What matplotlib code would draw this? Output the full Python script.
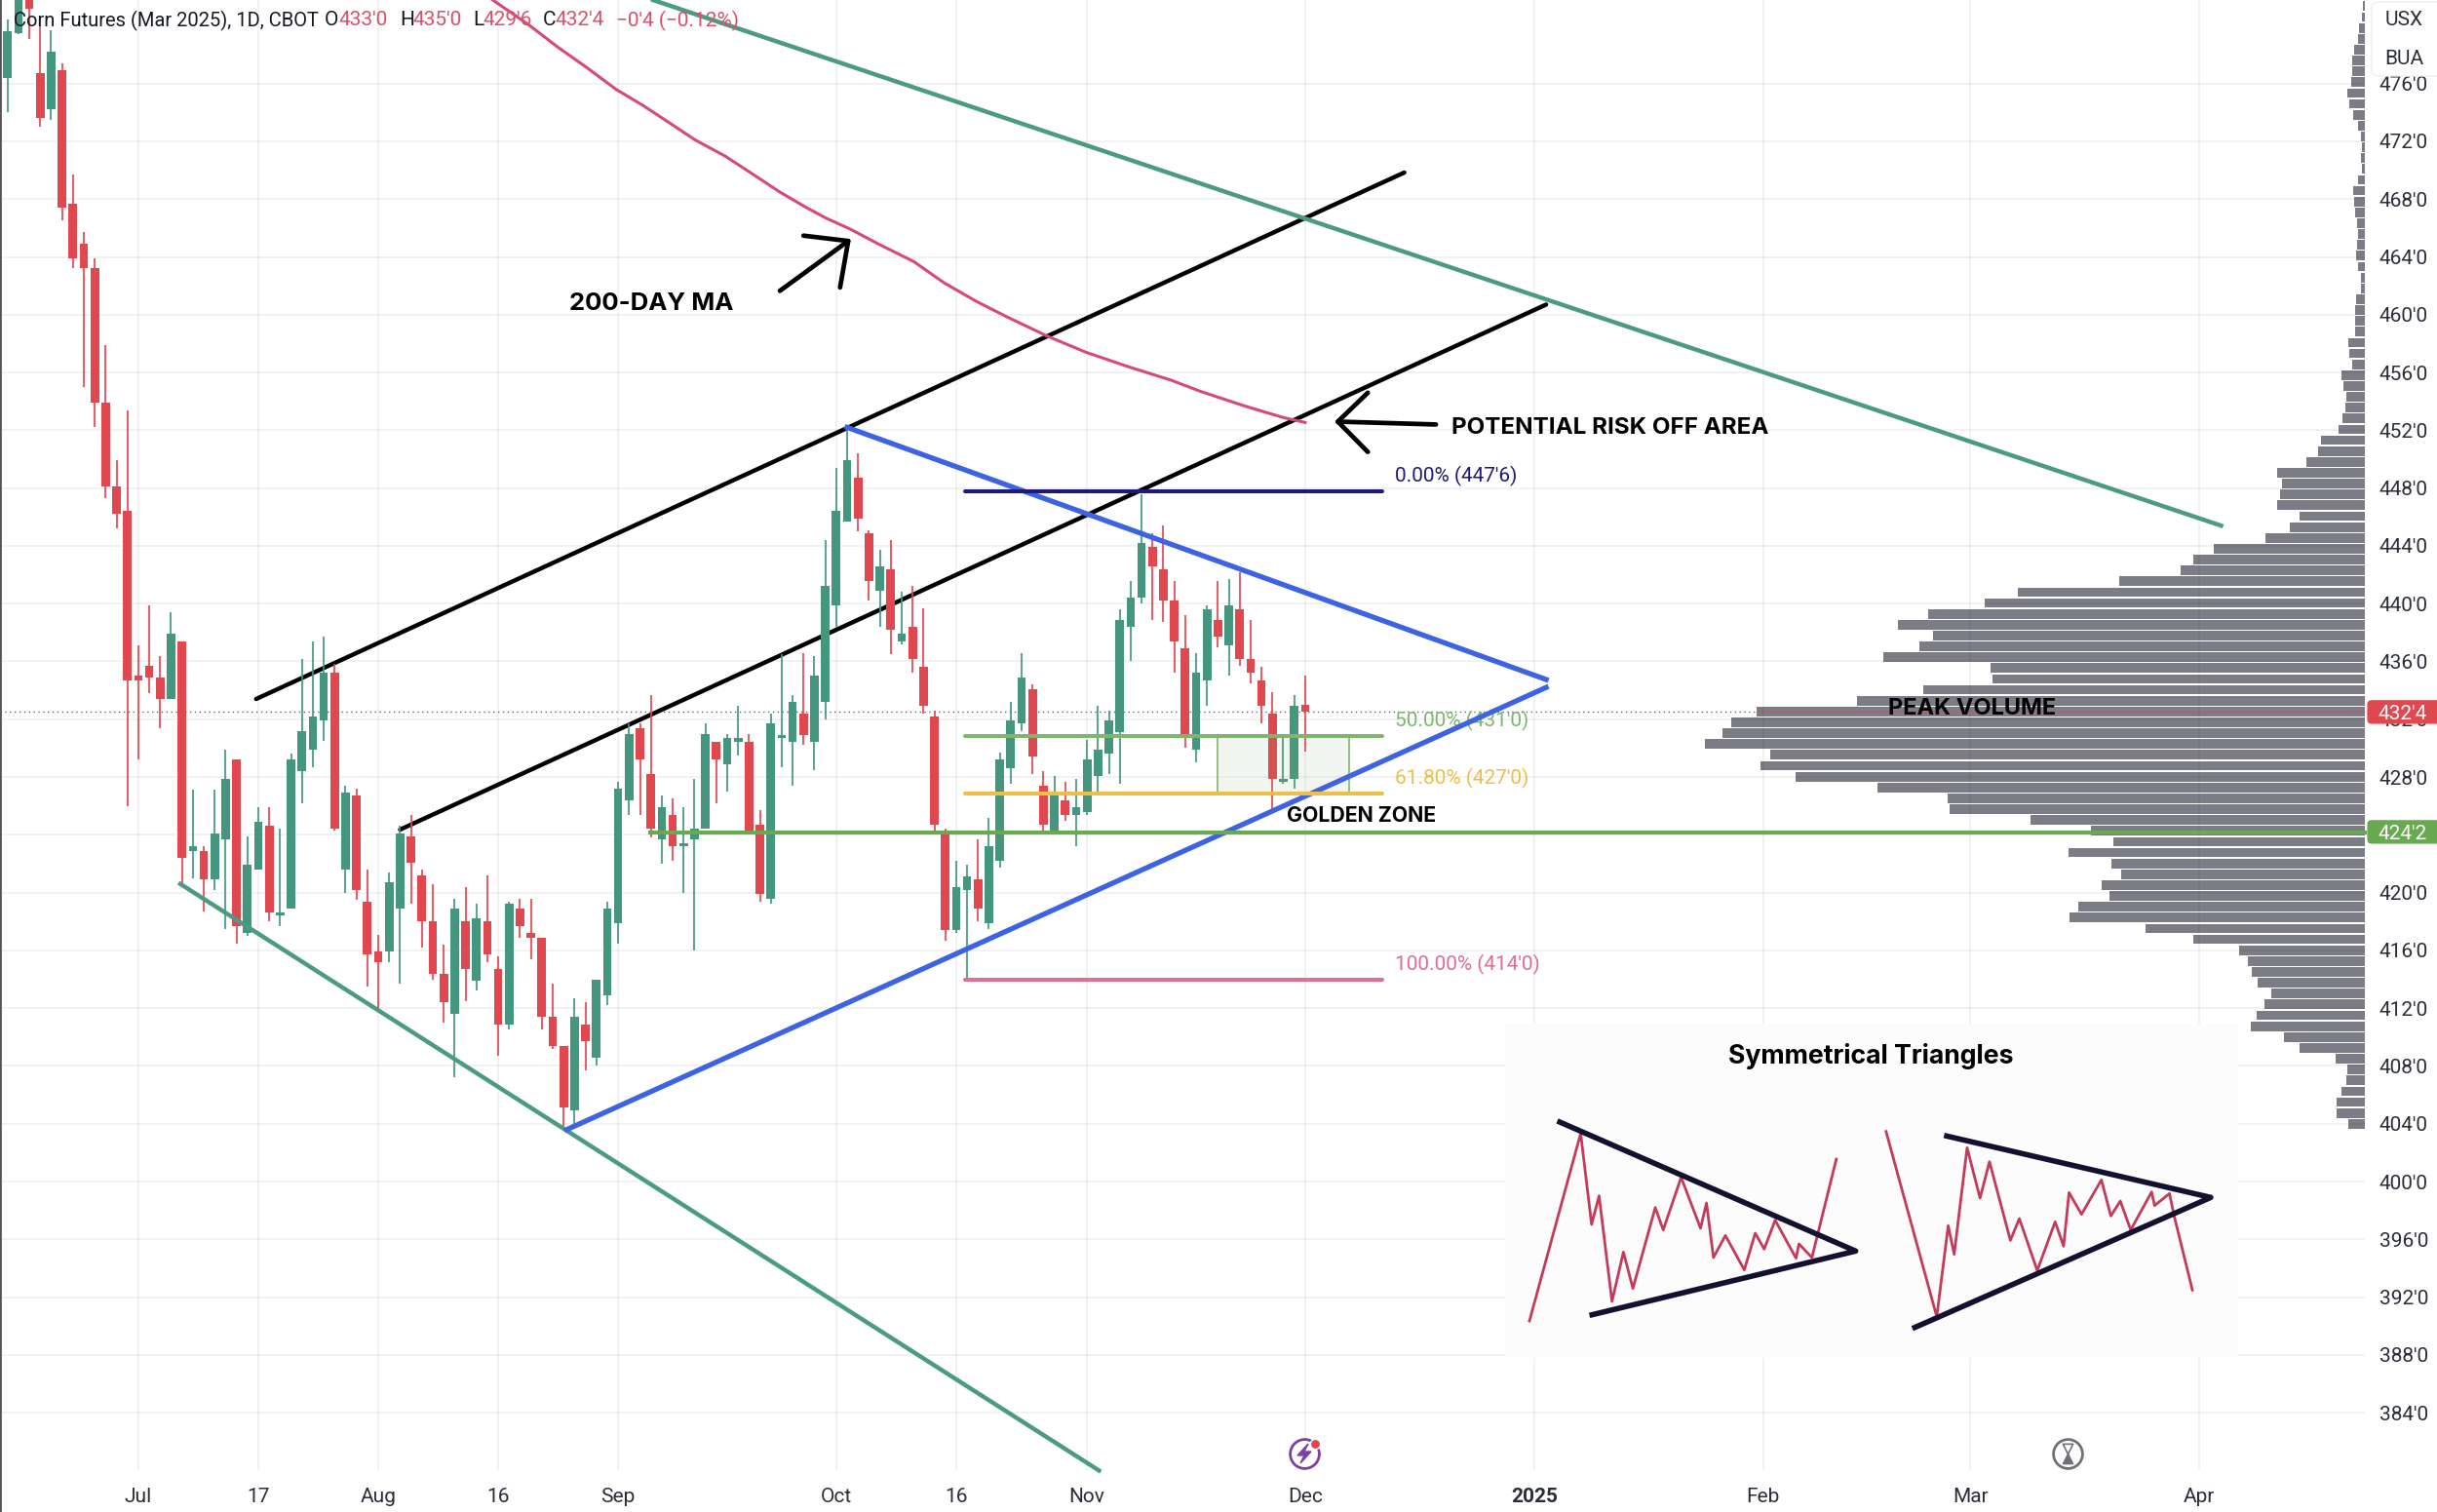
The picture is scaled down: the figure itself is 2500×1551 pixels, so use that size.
import matplotlib
matplotlib.use("Agg")
import matplotlib.pyplot as plt
from matplotlib.patches import FancyBboxPatch, Rectangle

# Daily candles, Corn Futures Mar 2025
opens = [476.4, 479.5, 483.0, 476.7, 474.2, 476.9, 467.7, 464.9, 463.2, 453.9, 448.1, 446.4, 435.0, 435.7, 434.9,
         433.4, 437.4, 422.9, 422.9, 420.9, 423.7, 429.2, 417.2, 421.6, 424.6, 418.4, 418.9, 428.4, 429.9, 431.9,
         435.2, 421.6, 426.7, 419.4, 415.9, 415.9, 418.9, 423.9, 421.2, 418.0, 414.4, 411.6, 418.0, 413.9, 418.0,
         414.7, 410.9, 418.9, 417.2, 416.9, 411.4, 409.4, 404.9, 410.9, 408.6, 412.9, 417.9, 426.4, 431.4, 428.2,
         423.7, 425.4, 423.2, 423.7, 424.4, 430.4, 428.9, 430.4, 430.4, 424.7, 419.6, 430.7, 430.4, 432.4, 430.4,
         433.2, 439.9, 445.7, 448.7, 444.9, 440.9, 442.4, 437.4, 438.4, 435.6, 432.2, 424.0, 417.4, 420.2, 420.9,
         417.9, 422.2, 428.6, 431.7, 434.1, 427.4, 424.2, 426.4, 425.4, 425.6, 428.1, 429.6, 431.1, 438.4, 440.4,
         443.9, 442.4, 440.2, 436.9, 429.9, 434.7, 438.9, 437.1, 439.6, 436.2, 434.7, 432.4, 427.7, 427.9, 433.0]
highs = [480.4, 483.0, 484.0, 480.3, 479.7, 477.4, 469.7, 465.7, 463.9, 457.9, 449.9, 453.4, 437.1, 439.9, 436.4,
         439.4, 437.4, 427.1, 423.2, 427.1, 429.9, 429.2, 423.9, 425.9, 425.9, 424.4, 429.6, 436.2, 437.4, 437.7,
         435.8, 427.4, 427.2, 421.6, 417.1, 421.4, 424.6, 425.4, 421.6, 420.6, 416.4, 419.6, 420.4, 419.2, 421.2,
         415.6, 419.4, 419.6, 419.6, 416.9, 413.7, 409.4, 412.7, 412.4, 414.0, 419.4, 427.7, 431.7, 431.7, 433.7,
         426.7, 426.5, 425.9, 427.9, 431.7, 430.4, 431.0, 432.9, 431.0, 425.7, 432.4, 436.5, 433.7, 436.6, 436.4,
         444.4, 449.4, 452.3, 450.4, 445.1, 443.7, 444.4, 440.8, 441.2, 439.7, 432.6, 424.4, 422.2, 421.9, 423.7,
         425.2, 429.7, 433.2, 436.6, 434.4, 428.4, 428.1, 427.7, 427.9, 430.6, 432.9, 432.6, 439.6, 441.6, 447.6,
         444.9, 445.4, 441.6, 439.2, 436.6, 439.9, 441.6, 441.7, 442.2, 438.9, 435.6, 433.9, 430.7, 433.7, 435.0]
lows = [474.0, 479.4, 479.1, 473.0, 473.5, 466.5, 463.2, 455.0, 452.2, 447.3, 445.2, 426.0, 429.2, 433.8, 431.4,
        433.4, 420.4, 421.0, 418.7, 420.2, 417.5, 416.5, 417.0, 421.6, 418.0, 417.7, 418.9, 426.2, 428.7, 430.5,
        424.3, 420.0, 419.5, 413.5, 411.9, 415.2, 413.7, 419.2, 416.2, 414.0, 411.0, 407.2, 412.5, 413.2, 415.2,
        408.7, 410.5, 416.9, 415.4, 410.5, 409.2, 403.7, 403.7, 407.7, 408.0, 412.2, 416.5, 425.4, 425.4, 423.8,
        422.0, 422.2, 420.0, 416.0, 424.4, 426.2, 427.0, 429.5, 424.2, 419.4, 419.2, 428.7, 427.4, 430.2, 428.5,
        432.0, 438.4, 445.7, 445.0, 440.2, 438.4, 436.5, 437.2, 435.2, 432.4, 424.2, 416.7, 417.2, 414.1, 418.0,
        417.5, 421.7, 427.5, 431.2, 428.2, 424.2, 424.2, 425.0, 423.2, 425.4, 427.0, 428.2, 427.5, 436.0, 440.0,
        438.9, 438.7, 435.2, 430.0, 429.0, 432.9, 437.0, 435.0, 435.7, 434.5, 431.7, 425.5, 427.5, 427.2, 429.75]
closes = [479.6, 481.8, 481.2, 473.6, 478.2, 467.4, 463.9, 463.2, 453.9, 448.1, 446.2, 434.7, 434.7, 434.9, 433.4,
          437.9, 422.4, 423.2, 420.9, 424.1, 427.9, 417.7, 421.9, 424.9, 418.6, 418.5, 429.2, 431.2, 432.2, 435.2,
          424.4, 426.9, 420.2, 415.7, 415.2, 420.7, 424.1, 422.1, 418.0, 414.4, 412.4, 418.9, 414.7, 418.2, 415.7,
          410.9, 419.2, 417.7, 416.9, 411.4, 409.4, 405.1, 411.4, 409.7, 414.0, 418.9, 427.2, 431.0, 429.2, 424.4,
          425.9, 423.2, 423.4, 424.4, 431.0, 429.2, 430.7, 430.7, 424.2, 419.9, 431.7, 430.8, 433.2, 430.9, 435.0,
          441.2, 446.4, 449.9, 445.9, 441.6, 442.6, 438.2, 437.9, 436.2, 432.9, 424.7, 417.4, 420.4, 421.1, 418.9,
          423.2, 429.2, 431.9, 434.9, 429.4, 424.7, 426.7, 425.4, 425.9, 429.2, 429.9, 431.9, 438.9, 440.4, 444.2,
          442.6, 440.2, 437.4, 430.9, 435.2, 439.6, 437.7, 439.9, 436.2, 435.2, 432.9, 427.9, 427.9, 432.9, 432.5]

# 200-day moving average (bar, price)
ma_bars = [44.5, 47.75, 50.5, 53.0, 55.8, 58.3, 60.8, 63.05, 65.8, 68.3, 70.8, 73.3, 75.1, 77.35, 79.85, 83.1,
           85.9, 88.9, 91.65, 95.4, 98.9, 102.9, 106.7, 109.45, 113.5, 117.0, 119.0]
ma_prices = [481.78, 480.09, 478.5, 477.17, 475.6, 474.47, 473.23, 472.1, 470.98, 469.75, 468.5, 467.4, 466.67,
             465.9, 464.9, 463.68, 462.2, 460.9, 459.85, 458.5, 457.4, 456.37, 455.47, 454.68, 453.67, 452.88, 452.54]

# Volume profile, top bin down to the lowest bin
profile_top = 481.35
profile_bin = 0.751
profile_volume = [2, 2.7, 6, 7.3, 11, 13.3, 12.7, 14, 18, 16, 11.7, 6.7, 3.7, 3.3, 4.3, 3.3, 7.3, 12, 11, 10.3,
                  8, 7.3, 8, 8.7, 6.7, 4, 4, 9.3, 9.7, 10.3, 10.3, 16.7, 16, 13.3, 24.3, 22, 19, 20.3, 22.7, 27.3,
                  45, 48, 60.3, 90.3, 85, 86.7, 89.7, 67.3, 76.7, 102, 155, 176.3, 188.7, 251.6, 356.3, 390.3,
                  447.7, 479.3, 443.5, 456.8, 493.6, 383.8, 382, 453.2, 521.1, 624, 650.1, 658.9, 677.2, 609.7,
                  619.8, 584, 500.5, 428.4, 426.5, 343, 281.4, 258.3, 304.3, 260, 250, 270, 261.7, 294.3, 303,
                  225.3, 175.7, 128.7, 120.3, 116.3, 110.3, 95.7, 103.3, 111, 117, 83.3, 67, 29.7, 18, 19, 24, 29,
                  29, 16.7]

# Drawn trend lines ((bar, bar), (price, price))
black_upper = ((22.8, 128.1), (433.4, 469.84))
black_lower = ((36.0, 141.1), (424.36, 460.7))
teal_upper = ((59.2, 203.0), (481.78, 445.4))
teal_lower = ((15.85, 100.1), (420.6, 380.0))
blue_upper = ((77.0, 141.1), (452.2, 434.75))
blue_lower = ((51.3, 141.1), (403.6, 434.2))

# Fibonacci levels
fib_levels = [447.75, 430.85, 426.85, 414.0]
fib_labels = ["0.00% (447'6)", "50.00% (431'0)", "61.80% (427'0)", "100.00% (414'0)"]
fib_colors = ["#1f1a7a", "#7fb56e", "#eebf48", "#df6d98"]

# Axis ticks
x_ticks = [12, 23, 34, 45, 56, 76, 87, 99, 119, 140, 161, 180, 201]
x_labels = ["Jul", "17", "Aug", "16", "Sep", "Oct", "16", "Nov", "Dec", "2025", "Feb", "Mar", "Apr"]
y_ticks = list(range(384, 480, 4))
y_labels = [f"{p}'0" for p in y_ticks]

# Inset picture of the two triangle patterns
tri1_x = [96, 199, 221, 236, 262, 285, 304, 349, 365, 401, 440, 452, 466, 490, 528, 550, 568, 590, 632, 638, 664, 713]
tri1_y = [945, 368, 648, 560, 885, 733, 845, 596, 665, 503, 660, 582, 750, 682, 788, 675, 724, 635, 752, 708, 750, 447]
tri2_x = [813, 915, 938, 950, 976, 1002, 1021, 1063, 1081, 1117, 1153, 1170, 1181, 1206, 1246, 1265, 1284, 1305,
          1347, 1353, 1383, 1392, 1429]
tri2_y = [362, 932, 652, 740, 412, 567, 455, 697, 630, 790, 640, 715, 550, 617, 511, 622, 576, 665, 548, 590, 553,
          620, 850]
tri1_edges_x = [157, 752, 222]
tri1_edges_y = [333, 730, 926]
tri2_edges_x = [935, 1466, 871]
tri2_edges_y = [376, 565, 965]

GREEN = "#44967f"
RED = "#e0474f"
FONT = "Roboto"
BOLD = "Inter"

W, H = 2500, 1551
fig = plt.figure(figsize=(W / 100, H / 100), dpi=100, facecolor="white")

# Volume profile sits under everything else, its zero at the price scale
ax_v = fig.add_axes([0, 0, 1, 1], zorder=1)
ax_v.set_xlim(2426, 2426 - W)
ax_v.set_ylim(377.13, 481.78)
ax_v.axis("off")
profile_prices = [profile_top - profile_bin * k for k in range(len(profile_volume))]
ax_v.barh(profile_prices, profile_volume, height=profile_bin * 0.88, color="#7b7c85")

# Main chart
ax = fig.add_axes([0, 0, 1, 1], zorder=2)
ax.patch.set_visible(False)
ax.set_xlim(-0.688, 222.8)
ax.set_ylim(377.13, 481.78)
for name in ["top", "right", "bottom"]:
    ax.spines[name].set_visible(False)
ax.spines["left"].set_color("#555555")
ax.spines["left"].set_linewidth(2.0)

ax.yaxis.tick_right()
ax.set_yticks(y_ticks, y_labels)
ax.set_xticks(x_ticks, x_labels)
ax.tick_params(axis="y", length=0, pad=-42.5, labelsize=15, labelcolor="#2a2e39")
ax.tick_params(axis="x", length=0, pad=-18, labelsize=15, labelcolor="#2a2e39")
for label in ax.get_xticklabels() + ax.get_yticklabels():
    label.set_family(FONT)
ax.get_xticklabels()[x_labels.index("2025")].set_fontweight("bold")

# Grid is see-through so it stays faint over the profile bars
ax.vlines(x_ticks, 380.0, 481.78, color="black", alpha=0.055, lw=1.3, zorder=1)
ax.hlines(y_ticks, -0.688, 216.2, color="black", alpha=0.055, lw=1.3, zorder=1)

# Current price line
ax.hlines(432.5, -0.688, 160.4, color="#666666", lw=1.0, linestyle=(0, (1, 2.5)), zorder=1.5)
ax.hlines(432.5, 160.4, 216.2, color=RED, lw=0.8, alpha=0.4, zorder=1.5)

ax.plot(*black_upper, color="black", lw=3.2, zorder=2, solid_capstyle="round")
ax.plot(*black_lower, color="black", lw=3.2, zorder=2, solid_capstyle="round")

# Candles
bars = list(range(len(opens)))
colors = [GREEN if c >= o else RED for o, c in zip(opens, closes)]
ax.vlines(bars, lows, highs, colors=colors, lw=1.5, alpha=0.85, zorder=3)
body_low = [min(o, c) for o, c in zip(opens, closes)]
body_high = [max(o, c) for o, c in zip(opens, closes)]
body_size = [max(t - b, 0.2) for t, b in zip(body_high, body_low)]
ax.bar(bars, body_size, bottom=body_low, width=0.78, color=colors, zorder=3.1)

ax.plot(ma_bars, ma_prices, color="#d6487f", lw=2.2, zorder=4)

ax.plot(*teal_upper, color="#4b9b84", lw=3.2, zorder=4)
ax.plot(*teal_lower, color="#4b9b84", lw=3.2, zorder=4)
ax.plot(*blue_upper, color="#3d63e2", lw=3.8, zorder=4.2)
ax.plot(*blue_lower, color="#3d63e2", lw=3.8, zorder=4.2)

# Fib block
ax.add_patch(Rectangle((111, 426.85), 12, 4, facecolor="#7fb56e", alpha=0.1, zorder=3.5))
ax.add_patch(Rectangle((111, 426.85), 12, 4, fill=False, edgecolor="#7fb56e", lw=1.2, zorder=3.5))
for level, label, color in zip(fib_levels, fib_labels, fib_colors):
    ax.plot([87.8, 126.1], [level, level], color=color, lw=2.9, zorder=4.4, solid_capstyle="round")
    ax.text(127.2, level + 1.05, label, color=color, fontsize=15, family=FONT, va="center", zorder=4.1)

ax.plot([58.9, 216.2], [424.15, 424.15], color="#6aa852", lw=3.0, zorder=4.3)

# Hand drawn arrows
ax.plot([70.83, 77.1], [461.65, 465.1], color="black", lw=3.4, solid_capstyle="round", zorder=5)
ax.plot([73.0, 77.1, 76.35], [465.47, 465.1, 461.88], color="black", lw=3.4, solid_capstyle="round", zorder=5)
ax.plot([131.0, 122.0], [452.4, 452.6], color="black", lw=3.4, solid_capstyle="round", zorder=5)
ax.plot([124.75, 122.0, 124.75], [454.6, 452.6, 450.5], color="black", lw=3.4, solid_capstyle="round", zorder=5)

ax.text(51.5, 460.75, "200-DAY MA", fontsize=18.5, family=BOLD, fontweight="bold", va="center", zorder=6)
ax.text(132.4, 452.15, "POTENTIAL RISK OFF AREA", fontsize=17.4, family=BOLD, fontweight="bold", va="center", zorder=6)
ax.text(117.3, 425.3, "GOLDEN ZONE", fontsize=15.3, family=BOLD, fontweight="bold", va="center", zorder=6)
ax.text(172.5, 432.7, "PEAK VOLUME", fontsize=17, family=BOLD, fontweight="bold", va="center", zorder=6)

# Price tags on the scale
for price, text, color in [(432.5, "432'4", RED), (424.2, "424'2", "#69a94f")]:
    ax.add_patch(FancyBboxPatch((216.4, price - 0.82), 7.0, 1.64, boxstyle="round,pad=0,rounding_size=0.4",
                                mutation_aspect=0.75, facecolor=color, edgecolor="none", zorder=7))
    ax.text(219.6, price, text, color="white", fontsize=15, family=FONT, ha="center", va="center_baseline", zorder=8)

# Inset pattern picture
ax_in = fig.add_axes([1520 / W, (H - 1540) / H, 800 / W, 500 / H], zorder=3)
ax_in.set_xlim(0, 1568)
ax_in.set_ylim(1500, 0)
ax_in.axis("off")
ax_in.add_patch(Rectangle((47, 30), 1473, 1030, facecolor="#fcfcfc", edgecolor="none"))
ax_in.plot(tri1_x, tri1_y, color="#c43a5a", lw=2.0)
ax_in.plot(tri2_x, tri2_y, color="#c43a5a", lw=2.0)
ax_in.plot(tri1_edges_x, tri1_edges_y, color="#14102f", lw=4.0)
ax_in.plot(tri2_edges_x, tri2_edges_y, color="#14102f", lw=4.0)
ax_in.text(782, 130, "Symmetrical Triangles", fontsize=19.2, family=BOLD, fontweight="bold", ha="center", va="center")

# Overlay in pixels for the header, currency box and icons
ax_top = fig.add_axes([0, 0, 1, 1], zorder=4)
ax_top.set_xlim(0, W)
ax_top.set_ylim(H, 0)
ax_top.axis("off")

ax_top.text(14, 21, "Corn Futures (Mar 2025), 1D, CBOT", color="#131722", fontsize=14.5, family=FONT, va="center")
header = [(333, "O", "#131722"), (347, "433'0", "#d9506a"), (410, "H", "#131722"), (423, "435'0", "#d9506a"),
          (485, "L", "#131722"), (495, "429'6", "#d9506a"), (557, "C", "#131722"), (570, "432'4", "#d9506a"),
          (632, "\u22120'4 (\u22120.12%)", "#d9506a")]
for x, text, color in header:
    ax_top.text(x, 21, text, color=color, fontsize=15, family=FONT, va="center")

ax_top.add_patch(FancyBboxPatch((2433, 2), 80, 76, boxstyle="round,pad=0,rounding_size=7",
                                facecolor="white", edgecolor="#eeeeee", lw=1))
ax_top.text(2466, 21, "USX", fontsize=15, family=FONT, color="#2a2e39", ha="center", va="center")
ax_top.text(2466, 60, "BUA", fontsize=15, family=FONT, color="#2a2e39", ha="center", va="center")

# Lightning icon
ax_top.scatter([1338], [1491], s=460, facecolor="white", edgecolor="#7d3fa6", lw=2.0)
ax_top.fill([1342, 1331, 1338, 1334, 1345, 1338], [1481, 1493, 1493, 1501, 1489, 1489], color="#7d3fa6")
ax_top.scatter([1349], [1481], s=55, color="#e0474f", edgecolor="white", lw=1.0, zorder=3)

# Hourglass icon
ax_top.scatter([2121], [1491], s=460, facecolor="white", edgecolor="#6f7178", lw=2.0)
ax_top.scatter([2121], [1486], s=55, marker="v", facecolor="white", edgecolor="#6f7178", lw=1.2)
ax_top.scatter([2121], [1496], s=55, marker="^", color="#6f7178")

fig.savefig("out.png", dpi=100)
plt.close(fig)
